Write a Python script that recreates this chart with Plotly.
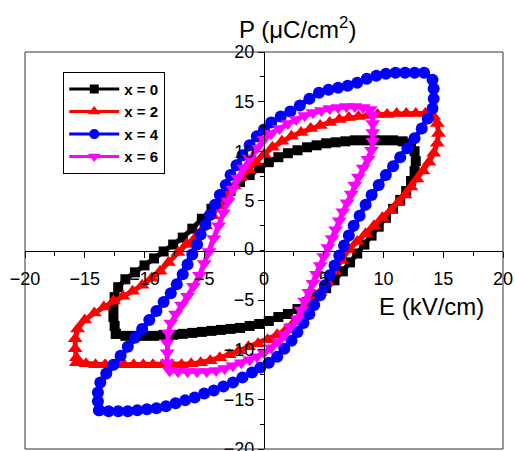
import plotly.graph_objects as go

# ---------------- data (E in kV/cm, P in uC/cm^2) ----------------
series_names = ["x = 0", "x = 2", "x = 4", "x = 6"]

E_x0 = [-12.4, -11.6, -10.8, -10.0, -9.2, -8.4, -7.6, -6.8, -6.0, -5.2,
        -4.4, -3.6, -2.8, -2.0, -1.2, -0.4, 0.4, 1.2, 2.0, 2.8,
        3.6, 4.4, 5.2, 5.9, 6.6, 7.2, 7.8, 8.4, 9.0, 9.6,
        10.2, 10.8, 11.4, 11.9, 12.3, 12.6, 12.7, 12.6, 12.3,
        11.6, 10.8, 10.0, 9.2, 8.4, 7.6, 6.8, 6.0, 5.2, 4.4,
        3.6, 2.8, 2.0, 1.2, 0.4, -0.4, -1.2, -2.0, -2.8, -3.6,
        -4.4, -5.2, -6.0, -6.8, -7.6, -8.4, -9.2, -10.0, -10.8, -11.6,
        -12.2, -12.5, -12.6, -12.6, -12.5, -12.4]
P_x0 = [-8.4, -8.6, -8.6, -8.6, -8.6, -8.5, -8.5, -8.4, -8.3, -8.2,
        -8.1, -8.0, -7.9, -7.8, -7.6, -7.4, -7.1, -6.7, -6.4, -5.9,
        -5.2, -4.5, -3.8, -3.0, -2.1, -1.2, -0.3, 0.6, 1.5, 2.4,
        3.3, 4.2, 5.1, 6.0, 7.0, 8.0, 9.0, 10.0, 10.8,
        11.0, 11.1, 11.1, 11.1, 11.1, 11.1, 11.0, 10.9, 10.8, 10.6,
        10.4, 10.1, 9.8, 9.4, 8.9, 8.3, 7.6, 6.9, 6.0, 5.1,
        4.2, 3.2, 2.2, 1.3, 0.6, -0.1, -0.8, -1.5, -2.2, -2.9,
        -3.7, -4.7, -5.7, -6.7, -7.6, -8.4]

E_x2 = [-15.7, -14.9, -14.1, -13.3, -12.5, -11.7, -10.9, -10.1, -9.3, -8.5,
        -7.7, -6.9, -6.1, -5.3, -4.5, -3.7, -2.9, -2.1, -1.3, -0.5,
        0.3, 1.1, 1.9, 2.6, 3.3, 4.0, 4.7, 5.3, 5.9, 6.5,
        7.1, 7.8, 8.5, 9.2, 9.9, 10.6, 11.2, 11.8, 12.3, 12.8,
        13.3, 13.8, 14.2, 14.5, 14.6, 14.5, 14.2,
        13.5, 12.7, 11.9, 11.1, 10.3, 9.5, 8.7, 7.9, 7.1, 6.3,
        5.5, 4.7, 3.9, 3.1, 2.3, 1.5, 0.7, 0.0, -0.7, -1.3,
        -1.9, -2.5, -3.1, -3.7, -4.3, -4.9, -5.6, -6.5, -7.2, -8.0,
        -8.7, -9.4, -10.2, -11.0, -11.8, -12.6, -13.4, -14.2, -15.0, -15.6,
        -15.8, -15.8, -15.7]
P_x2 = [-11.3, -11.4, -11.5, -11.5, -11.5, -11.5, -11.5, -11.5, -11.5, -11.5,
        -11.5, -11.5, -11.4, -11.3, -11.1, -10.8, -10.5, -10.1, -9.7, -9.4,
        -9.0, -8.5, -7.9, -7.1, -6.2, -5.2, -4.2, -3.2, -2.1, -1.0,
        0.1, 0.9, 1.7, 2.5, 3.3, 4.0, 4.8, 5.6, 6.4, 7.2,
        8.0, 8.9, 9.8, 10.8, 11.8, 12.8, 13.5,
        13.8, 13.8, 13.8, 13.8, 13.7, 13.7, 13.6, 13.5, 13.4, 13.2,
        12.9, 12.6, 12.3, 11.9, 11.5, 11.0, 10.4, 9.7, 8.9, 8.1,
        7.4, 6.5, 5.5, 4.5, 3.5, 2.5, 1.5, 0.6, -0.2, -1.2,
        -2.1, -2.8, -3.5, -4.1, -4.6, -5.1, -5.7, -6.3, -7.0, -7.9,
        -8.9, -9.9, -10.8]

E_x4 = [-13.8, -13.0, -12.2, -11.4, -10.6, -9.8, -9.0, -8.2, -7.4, -6.6,
        -5.8, -5.0, -4.2, -3.4, -2.6, -1.8, -1.0, -0.3, 0.4, 1.1,
        1.7, 2.3, 2.8, 3.3, 3.8, 4.2, 4.7, 5.1, 5.5, 5.9,
        6.3, 6.7, 7.1, 7.5, 8.0, 8.5, 9.0, 9.6, 10.2, 10.8,
        11.4, 12.0, 12.6, 13.2, 13.7, 14.1, 14.2, 14.2, 14.1,
        13.4, 12.6, 11.8, 11.0, 10.2, 9.4, 8.6, 7.8, 7.0, 6.2,
        5.4, 4.6, 3.8, 3.0, 2.2, 1.4, 0.6, 0.0, -0.6, -1.2,
        -1.8, -2.3, -2.8, -3.2, -3.7, -4.1, -4.5, -4.9, -5.3, -5.6,
        -6.0, -6.4, -6.8, -7.3, -7.8, -8.4, -9.0, -9.6, -10.2, -10.8,
        -11.4, -12.0, -12.6, -13.2, -13.7, -13.9, -13.9, -13.8]
P_x4 = [-16.1, -16.2, -16.2, -16.2, -16.1, -16.0, -15.9, -15.7, -15.4, -15.1,
        -14.8, -14.4, -14.1, -13.7, -13.3, -12.8, -12.3, -11.8, -11.3, -10.7,
        -9.9, -9.1, -8.2, -7.3, -6.4, -5.5, -4.5, -3.5, -2.5, -1.5,
        -0.5, 0.5, 1.5, 2.5, 3.5, 4.6, 5.6, 6.6, 7.6, 8.5,
        9.4, 10.3, 11.3, 12.3, 13.3, 14.3, 15.3, 16.3, 17.2,
        17.9, 17.9, 17.9, 17.9, 17.8, 17.6, 17.3, 16.9, 16.6, 16.4,
        16.2, 15.9, 15.3, 14.6, 14.0, 13.5, 12.9, 12.2, 11.5, 10.6,
        9.6, 8.6, 7.6, 6.6, 5.6, 4.6, 3.6, 2.6, 1.6, 0.6,
        -0.4, -1.4, -2.4, -3.4, -4.3, -5.2, -6.1, -7.0, -7.9, -8.8,
        -9.7, -10.6, -11.5, -12.4, -13.3, -14.3, -15.2, -16.1]

E_x6 = [-7.9, -7.2, -6.4, -5.6, -4.8, -4.0, -3.3, -2.6, -1.9, -1.2,
        -0.6, 0.0, 0.6, 1.2, 1.7, 2.2, 2.8, 3.1, 3.4, 3.75,
        4.1, 4.4, 4.7, 5.0, 5.35, 5.7, 6.0, 6.3, 6.6, 6.95,
        7.3, 7.6, 7.9, 8.3, 8.7, 9.0, 9.1, 9.1, 9.1, 9.1,
        8.9,
        8.3, 7.6, 6.9, 6.2, 5.5, 4.8, 4.1, 3.4, 2.7, 2.0,
        1.3, 0.6, 0.0, -0.6, -1.2, -1.7, -2.2, -2.6, -3.0, -3.4,
        -3.8, -4.2, -4.6, -5.0, -5.4, -5.9, -6.4, -6.9, -7.4, -7.8,
        -8.0, -8.1, -8.1, -8.1, -7.9]
P_x6 = [-12.1, -12.2, -12.2, -12.2, -12.2, -12.1, -11.9, -11.6, -11.3, -11.0,
        -10.7, -10.3, -9.8, -9.2, -8.5, -7.7, -6.9, -6.0, -5.1, -4.2,
        -3.3, -2.4, -1.5, -0.6, 0.3, 1.2, 2.1, 3.0, 3.9, 4.8,
        5.7, 6.6, 7.4, 8.3, 9.2, 10.1, 11.0, 11.9, 12.8, 13.6,
        14.2,
        14.4, 14.5, 14.5, 14.4, 14.3, 14.1, 13.9, 13.6, 13.2, 12.8,
        12.3, 11.8, 11.2, 10.3, 9.3, 8.3, 7.3, 6.2, 5.0, 3.8,
        2.5, 1.2, -0.1, -1.3, -2.5, -3.6, -4.6, -5.5, -6.4, -7.3,
        -8.3, -9.3, -10.3, -11.3, -12.1]

x_tick_vals = [-20, -15, -10, -5, 0, 5, 10, 15, 20]
y_tick_vals = [-20, -15, -10, -5, 5, 10, 15, 20]   # "0" is drawn separately below
y_zero_label = "0"

# ---------------- figure ----------------
FONT = "Liberation Sans, Arial, sans-serif"
styles = [
    ("black", "square", 10, 9),
    ("#FF0000", "triangle-up", 13, 11),
    ("#0000FF", "circle", 12, 10),
    ("#FF00FF", "triangle-down", 13, 11),
]
data = [(E_x0, P_x0), (E_x2, P_x2), (E_x4, P_x4), (E_x6, P_x6)]

fig = go.Figure()
for name, (ev, pv), (col, sym, sz, lsz) in zip(series_names, data, styles):
    fig.add_trace(go.Scatter(
        x=ev, y=pv, mode="lines+markers", name=name, showlegend=False,
        line=dict(color=col, width=5),
        marker=dict(color=col, symbol=sym, size=sz, line=dict(width=0)),
    ))
# legend entries (thin line + marker, as in the original legend)
for name, (col, sym, sz, lsz) in zip(series_names, styles):
    fig.add_trace(go.Scatter(
        x=[None], y=[None], mode="lines+markers", name="<b>" + name + "</b>",
        line=dict(color=col, width=3),
        marker=dict(color=col, symbol=sym, size=lsz, line=dict(width=0)),
    ))
# "0" label of the vertical axis, where the two axes cross
fig.add_trace(go.Scatter(
    x=[0], y=[0], mode="text", text=[y_zero_label + "  "],
    textposition="middle left", showlegend=False, hoverinfo="skip",
    cliponaxis=False,
    textfont=dict(family=FONT, size=18, color="black"),
))

axis_common = dict(
    range=[-20, 20], showgrid=False, zeroline=False,
    showline=True, linecolor="black", linewidth=1,
    anchor="free", position=0.5, automargin=False,
    ticks="outside", ticklen=6, tickwidth=1, tickcolor="black",
    ticklabeloverflow="allow",
    tickfont=dict(family=FONT, size=18, color="black"),
    minor=dict(ticks="outside", ticklen=4, tickwidth=1, tickcolor="black",
               dtick=2.5, showgrid=False),
)
fig.update_layout(
    width=515, height=451,
    margin=dict(l=25, r=12, t=52, b=2, autoexpand=False),
    paper_bgcolor="white", plot_bgcolor="white",
    xaxis=dict(**axis_common, tickvals=x_tick_vals, ticklabelstandoff=6),
    yaxis=dict(**axis_common, tickvals=y_tick_vals),
    showlegend=True,
    legend=dict(x=0.08, y=0.95, xanchor="left", yanchor="top",
                bgcolor="white", bordercolor="black", borderwidth=1,
                font=dict(family=FONT, size=15, color="black"),
                itemwidth=50, tracegroupgap=0),
    shapes=[
        dict(type="rect", xref="paper", yref="paper", x0=0, x1=1, y0=0, y1=1,
             line=dict(color="#333333", width=1), layer="above"),
    ],
    annotations=[
        dict(text="P (\u03bcC/cm<sup>2</sup>)", xref="paper", yref="paper",
             x=0.443, y=1.06, xanchor="left", yanchor="middle", showarrow=False,
             font=dict(family=FONT, size=24, color="black")),
        dict(text="E (kV/cm)", xref="paper", yref="paper",
             x=0.736, y=0.358, xanchor="left", yanchor="middle", showarrow=False,
             font=dict(family=FONT, size=24, color="black")),
    ],
)

fig.write_html("out.html",
               config={"displayModeBar": False},
               post_script="document.body.style.margin='0px';"
                           "document.body.style.overflow='hidden';")
